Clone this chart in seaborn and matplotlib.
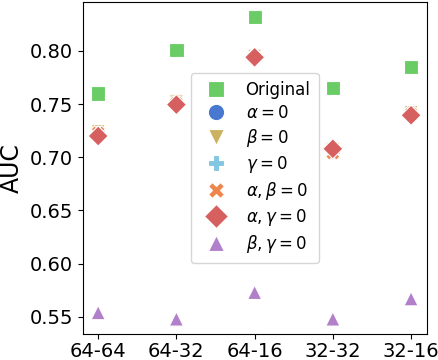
import matplotlib
matplotlib.use("Agg")
import matplotlib.pyplot as plt
import seaborn as sns
import pandas as pd

configs = ['64-64', '64-32', '64-16', '32-32', '32-16']
methods = ['Original', r'$\alpha=0$', r'$\beta=0$', r'$\gamma=0$',
           r'$\alpha,\beta=0$', r'$\alpha,\gamma=0$', r'$\beta,\gamma=0$']

auc_original = [0.760, 0.801, 0.832, 0.765, 0.785]
auc_alpha = [0.722, 0.751, 0.794, 0.706, 0.741]
auc_beta = [0.724, 0.752, 0.795, 0.707, 0.742]
auc_gamma = [0.723, 0.751, 0.794, 0.705, 0.741]
auc_alpha_beta = [0.723, 0.751, 0.794, 0.704, 0.741]
auc_alpha_gamma = [0.720, 0.7495, 0.794, 0.708, 0.7395]
auc_beta_gamma = [0.554, 0.548, 0.573, 0.548, 0.567]

series = [auc_original, auc_alpha, auc_beta, auc_gamma,
          auc_alpha_beta, auc_alpha_gamma, auc_beta_gamma]

rows = []
for m, vals in zip(methods, series):
    for c, v in zip(configs, vals):
        rows.append({'config': c, 'method': m, 'AUC': v})
df = pd.DataFrame(rows)

colors = ['#6acc64', '#4878d0', '#cbb262', '#82c6e2', '#ee854a', '#d65f5f', '#b27fcb']
marks = ['s', 'o', 'v', 'P', 'X', 'D', '^']
palette = dict(zip(methods, colors))
markers = dict(zip(methods, marks))

fig, ax = plt.subplots(figsize=(4.39, 3.6), dpi=100)
fig.subplots_adjust(left=0.188, right=0.972, bottom=0.072, top=0.995)

sns.scatterplot(data=df, x='config', y='AUC', hue='method', style='method',
                palette=palette, markers=markers, s=105, hue_order=methods,
                style_order=methods, ax=ax)

ax.set_xlabel('')
ax.set_ylabel('AUC', fontsize=17)
ax.tick_params(labelsize=14)
ax.tick_params(axis='x', pad=2)
ax.set_yticks([0.55, 0.60, 0.65, 0.70, 0.75, 0.80])

sns.move_legend(ax, 'center', title=None, fontsize=12, markerscale=1.15,
                handletextpad=0.8, borderpad=0.5, labelspacing=0.3)

fig.savefig('out.png', dpi=100)
